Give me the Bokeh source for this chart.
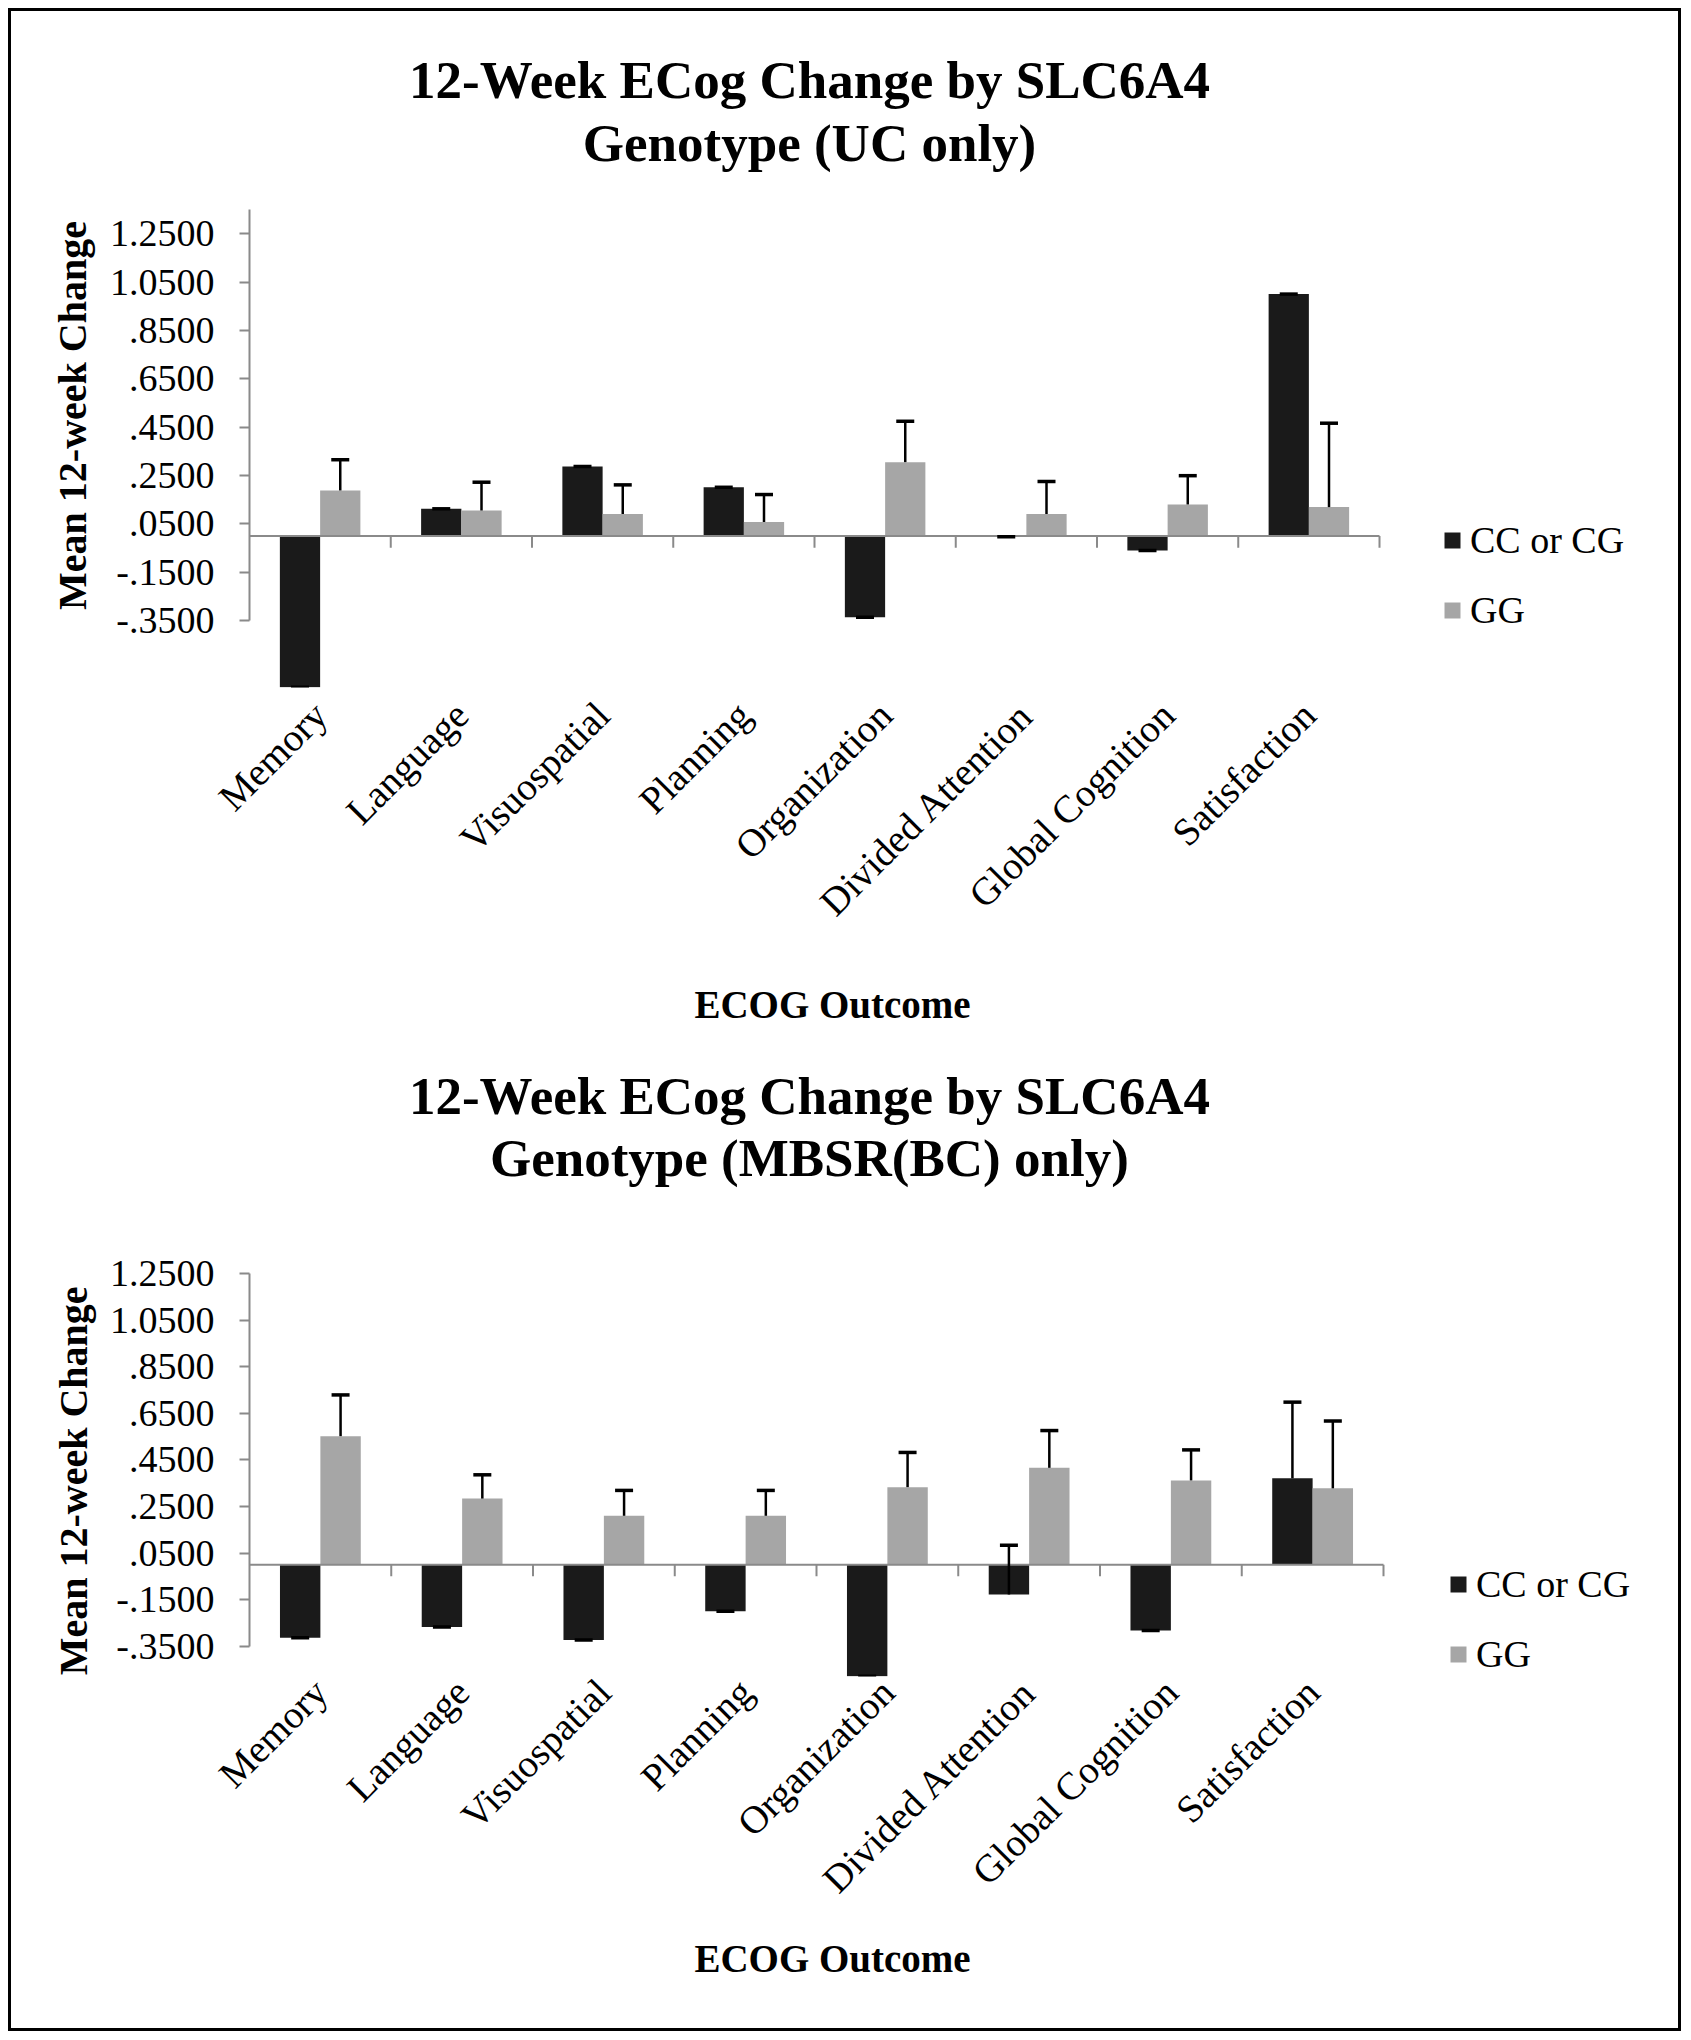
from math import pi
from bokeh.plotting import figure
from bokeh.models import (ColumnDataSource, Range1d, FixedTicker, Whisker,
                          TeeHead, Label, Legend, LegendItem)
from bokeh.transform import dodge
from bokeh.layouts import column
from bokeh.embed import file_html
from bokeh.resources import INLINE

# ---------------- data ----------------
categories = ["Memory", "Language", "Visuospatial", "Planning", "Organization",
              "Divided Attention", "Global Cognition", "Satisfaction"]
series_names = ["CC or CG", "GG"]
y_ticks = [-0.35, -0.15, 0.05, 0.25, 0.45, 0.65, 0.85, 1.05, 1.25]
y_tick_labels = ["-.3500", "-.1500", ".0500", ".2500", ".4500", ".6500", ".8500", "1.0500", "1.2500"]
x_axis_title = "ECOG Outcome"
y_axis_title = "Mean 12-week Change"

uc_title = ["12-Week ECog Change by SLC6A4", "Genotype (UC only)"]
uc_cc = [-0.626, 0.112, 0.287, 0.201, -0.336, -0.004, -0.060, 1.000]
uc_cc_err = [0.0, 0.0, 0.0, 0.0, 0.0, 0.0, 0.0, 0.0]
uc_gg = [0.188, 0.105, 0.091, 0.057, 0.305, 0.091, 0.130, 0.119]
uc_gg_err = [0.127, 0.117, 0.120, 0.114, 0.169, 0.134, 0.119, 0.347]

mbsr_title = ["12-Week ECog Change by SLC6A4", "Genotype (MBSR(BC) only)"]
mbsr_cc = [-0.314, -0.267, -0.323, -0.200, -0.479, -0.128, -0.283, 0.371]
mbsr_cc_err = [0.0, 0.0, 0.0, 0.0, 0.0, 0.212, 0.0, 0.327]
mbsr_gg = [0.552, 0.284, 0.210, 0.210, 0.333, 0.416, 0.362, 0.328]
mbsr_gg_err = [0.177, 0.102, 0.109, 0.109, 0.149, 0.160, 0.131, 0.289]

# ---------------- style ----------------
FONT = "Liberation Serif"
BLACK_BAR = "#1a1a1a"
GRAY_BAR = "#a6a6a6"
AXIS_GRAY = "#8a8a8a"
BAR_W = 0.285
OFF = 0.1425


def make_chart(title_lines, cc, cc_err, gg, gg_err, cfg):
    n = len(categories)
    centers = [i + 0.5 for i in range(n)]
    src = ColumnDataSource(dict(
        xc=centers, cc=cc, gg=gg,
        cc_hi=[v + e for v, e in zip(cc, cc_err)],
        gg_hi=[v + e for v, e in zip(gg, gg_err)],
    ))
    y_end = cfg["ymin"] + cfg["fh"] / cfg["ppu_y"]
    x_start = -cfg["axis_px"] / cfg["ppu_x"]
    x_end = x_start + cfg["fw"] / cfg["ppu_x"]
    p = figure(x_range=Range1d(x_start, x_end), y_range=Range1d(cfg["ymin"], y_end),
               frame_width=cfg["fw"], frame_height=cfg["fh"],
               min_border_left=cfg["bl"], min_border_right=cfg["br"],
               min_border_top=cfg["bt"], min_border_bottom=cfg["bb"],
               output_backend="svg", toolbar_location=None)
    p.outline_line_color = None
    p.xgrid.visible = False
    p.ygrid.visible = False
    p.background_fill_color = "white"
    p.border_fill_color = "white"

    r_cc = p.vbar(x=dodge("xc", -OFF), top="cc", width=BAR_W,
                  source=src, fill_color=BLACK_BAR, line_color=None)
    r_gg = p.vbar(x=dodge("xc", OFF), top="gg", width=BAR_W,
                  source=src, fill_color=GRAY_BAR, line_color=None)

    # category axis line at zero + tick marks between categories
    p.segment(x0=[0], y0=[0], x1=[n], y1=[0], line_color=AXIS_GRAY, line_width=2)
    p.segment(x0=list(range(1, n + 1)), y0=[0.0] * n, x1=list(range(1, n + 1)),
              y1=[-cfg["tick"]] * n, line_color=AXIS_GRAY, line_width=2)

    for base, lo, hi in ((-OFF, "cc", "cc_hi"), (OFF, "gg", "gg_hi")):
        w = Whisker(base=dodge("xc", base), lower=lo, upper=hi,
                    source=src, line_color="black", line_width=2.5, level="overlay",
                    upper_head=TeeHead(size=18, line_width=3.5, line_color="black"),
                    lower_head=None)
        p.add_layout(w)

    # value axis, placed at the first category boundary
    ya = p.yaxis[0]
    ya.fixed_location = 0
    ya.ticker = FixedTicker(ticks=y_ticks)
    ya.major_label_overrides = dict(zip(y_ticks, y_tick_labels))
    ya.bounds = (cfg["amin"], cfg["amax"])
    ya.axis_line_color = AXIS_GRAY
    ya.axis_line_width = 2
    ya.major_tick_line_color = AXIS_GRAY
    ya.major_tick_line_width = 2
    ya.major_tick_out = 10
    ya.major_tick_in = 0
    ya.minor_tick_line_color = None
    ya.major_label_standoff = 25
    ya.major_label_text_font = FONT
    ya.major_label_text_font_size = "38px"
    ya.major_label_text_color = "black"

    # category axis (labels only)
    xa = p.xaxis[0]
    xa.ticker = FixedTicker(ticks=centers)
    xa.major_label_overrides = dict(zip(centers, categories))
    xa.axis_line_color = None
    xa.major_tick_line_color = None
    xa.minor_tick_line_color = None
    xa.major_label_orientation = pi / 4
    xa.major_label_standoff = cfg["xstand"]
    xa.major_label_text_font = FONT
    xa.major_label_text_font_size = "39px"
    xa.major_label_text_color = "black"
    xa.axis_label = x_axis_title
    xa.axis_label_text_font = FONT
    xa.axis_label_text_font_size = "39px"
    xa.axis_label_text_font_style = "bold"
    xa.axis_label_text_color = "black"
    xa.axis_label_standoff = cfg["xlab_stand"]

    # y-axis title
    p.add_layout(Label(x=cfg["yt_x"], y=cfg["yt_y"], text=y_axis_title, angle=pi / 2,
                       text_align="center", text_baseline="middle", text_font=FONT,
                       text_font_size="40px", text_font_style="bold", text_color="black"))

    # two-line chart title
    for txt, yv in zip(title_lines, cfg["title_y"]):
        p.add_layout(Label(x=cfg["title_x"], y=yv, text=txt, text_align="center",
                           text_baseline="middle", text_font=FONT,
                           text_font_size="53px", text_font_style="bold",
                           text_color="black"))

    legend = Legend(items=[LegendItem(label=series_names[0], renderers=[r_cc]),
                           LegendItem(label=series_names[1], renderers=[r_gg])],
                    location=cfg["leg"], orientation="vertical",
                    glyph_width=20, glyph_height=20, label_standoff=8,
                    spacing=cfg["leg_sp"], padding=0, margin=0,
                    border_line_color=None, background_fill_alpha=0,
                    label_text_font=FONT, label_text_font_size="38px",
                    label_text_color="black")
    p.add_layout(legend)
    return p


cfg_top = dict(ymin=-0.627, ppu_y=241.8, ppu_x=141.25, axis_px=237, fw=1640, fh=675,
               bl=1, br=26, bt=1, bb=363,
               amin=-0.35, amax=1.35, tick=0.049, xstand=15, xlab_stand=41,
               title_x=3.965, title_y=[1.887, 1.625],
               yt_x=-1.2496, yt_y=0.498,
               leg=(1430, 55), leg_sp=26)
cfg_bot = dict(ymin=-0.48, ppu_y=232.9, ppu_x=141.75, axis_px=237, fw=1640, fh=625,
               bl=1, br=26, bt=1, bb=352,
               amin=-0.35, amax=1.25, tick=0.05, xstand=3, xlab_stand=18,
               title_x=3.95, title_y=[2.013, 1.746],
               yt_x=-1.245, yt_y=0.36,
               leg=(1436, 0), leg_sp=26)

p1 = make_chart(uc_title, uc_cc, uc_cc_err, uc_gg, uc_gg_err, cfg_top)
p2 = make_chart(mbsr_title, mbsr_cc, mbsr_cc_err, mbsr_gg, mbsr_gg_err, cfg_bot)

layout = column(p1, p2, spacing=0,
                styles={"border": "3px solid black", "margin": "8px 0 0 8px",
                        "background-color": "white"})

open("out.html", "w").write(file_html(layout, INLINE))
